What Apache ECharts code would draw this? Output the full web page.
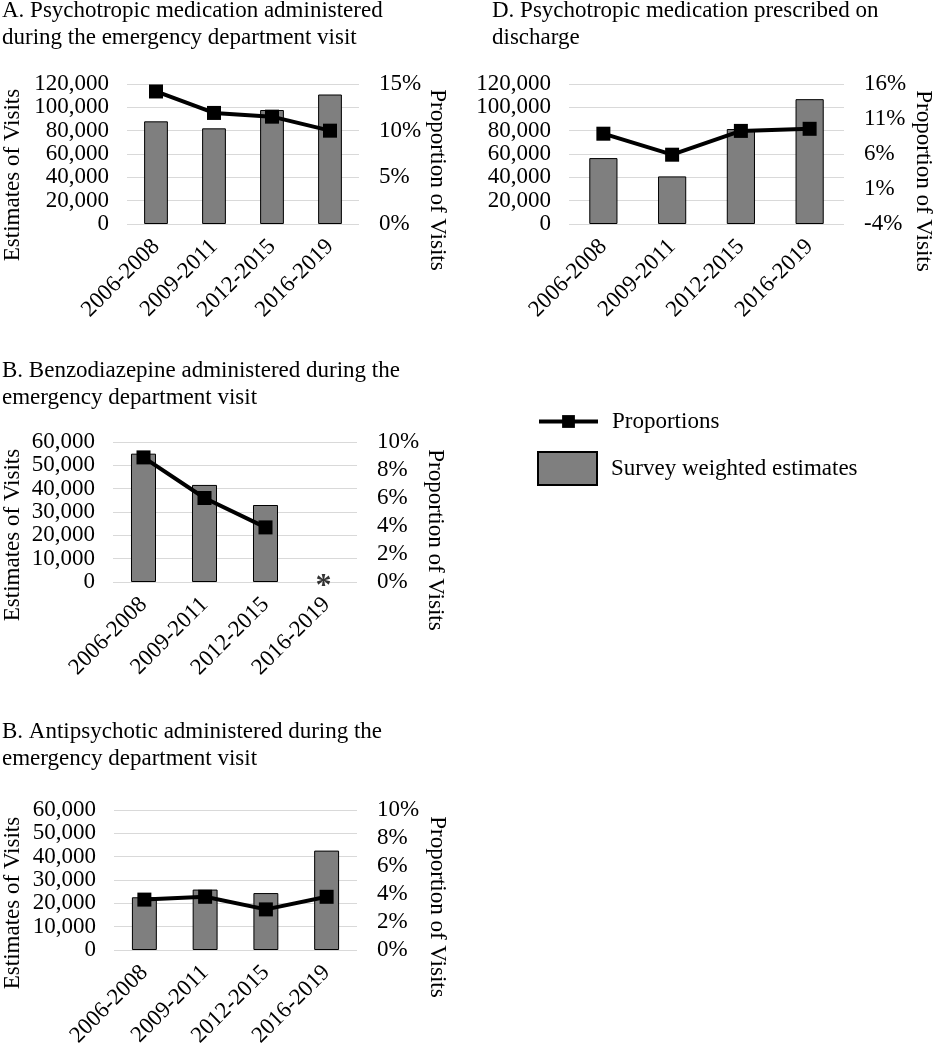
<!DOCTYPE html>
<html>
<head>
<meta charset="utf-8">
<script src="https://cdn.jsdelivr.net/npm/echarts@6/dist/echarts.min.js"></script>
<style>
html,body{margin:0;padding:0;background:#fff;}
#chart{width:934px;height:1050px;}
</style>
</head>
<body>
<div id="chart"></div>
<script>
// ---- data ----
const categories = ['2006-2008', '2009-2011', '2012-2015', '2016-2019'];

const psyAdminEstimates = [88000, 82000, 97700, 111000];
const psyAdminProportions = [14.2, 11.9, 11.5, 10.0];

const psyDischargeEstimates = [56500, 40800, 81400, 107000];
const psyDischargeProportions = [8.9, 5.9, 9.3, 9.6];

const benzoEstimates = [55000, 41600, 33000, null];
const benzoProportions = [8.9, 6.0, 3.9, null];
const benzoSuppressed = [null, null, null, 0];   // '*' marker: estimate not reportable

const antipsyEstimates = [22600, 25900, 24400, 42600];
const antipsyProportions = [3.6, 3.8, 2.9, 3.8];

// axis ranges [min, max, interval]
const psyAdminLeftAxis = [0, 120000, 20000];
const psyAdminRightAxis = [0, 15, 5];
const psyDischargeLeftAxis = [0, 120000, 20000];
const psyDischargeRightAxis = [-4, 16, 5];
const benzoLeftAxis = [0, 60000, 10000];
const benzoRightAxis = [0, 10, 2];
const antipsyLeftAxis = [0, 60000, 10000];
const antipsyRightAxis = [0, 10, 2];

const titles = [
  'A. Psychotropic medication administered\nduring the emergency department visit',
  'D. Psychotropic medication prescribed on\ndischarge',
  'B. Benzodiazepine administered during the\nemergency department visit',
  'B. Antipsychotic administered during the\nemergency department visit'
];
const leftAxisName = 'Estimates of Visits';
const rightAxisName = 'Proportion of Visits';
const lineName = 'Proportions';
const barName = 'Survey weighted estimates';

// ---- styling ----
const FONT = '"Liberation Serif", "Times New Roman", serif';
const FS = 23;
const GRID_COLOR = '#d9d9d9';
const BAR_COLOR = '#7f7f7f';

const grids = [
  {left: 127, top: 84, width: 232, height: 140},
  {left: 569, top: 84, width: 275, height: 140},
  {left: 113, top: 442, width: 244, height: 140},
  {left: 114, top: 810, width: 243, height: 140}
].map(g => Object.assign(g, {outerBoundsMode: 'none', containLabel: false}));

const panels = [
  {est: psyAdminEstimates, prop: psyAdminProportions, la: psyAdminLeftAxis, ra: psyAdminRightAxis},
  {est: psyDischargeEstimates, prop: psyDischargeProportions, la: psyDischargeLeftAxis, ra: psyDischargeRightAxis},
  {est: benzoEstimates, prop: benzoProportions, la: benzoLeftAxis, ra: benzoRightAxis},
  {est: antipsyEstimates, prop: antipsyProportions, la: antipsyLeftAxis, ra: antipsyRightAxis}
];

const fmtThousands = v => Math.round(v).toString().replace(/\B(?=(\d{3})+(?!\d))/g, ',');

const xAxis = [], yAxis = [], series = [];
panels.forEach((p, i) => {
  xAxis.push({
    type: 'category', gridIndex: i, data: categories, boundaryGap: true,
    axisLine: {show: false}, axisTick: {show: false},
    axisLabel: {rotate: 45, interval: 0, margin: 19,
                color: '#000', fontFamily: FONT, fontSize: FS}
  });
  yAxis.push({
    type: 'value', gridIndex: i, min: p.la[0], max: p.la[1], interval: p.la[2],
    axisLine: {show: false}, axisTick: {show: false},
    splitLine: {show: true, lineStyle: {color: GRID_COLOR, width: 1}},
    axisLabel: {margin: 18, color: '#000', fontFamily: FONT, fontSize: FS, formatter: fmtThousands,
                hideOverlap: false}
  });
  yAxis.push({
    type: 'value', gridIndex: i, position: 'right', min: p.ra[0], max: p.ra[1], interval: p.ra[2],
    axisLine: {show: false}, axisTick: {show: false}, splitLine: {show: false},
    axisLabel: {margin: 20, color: '#000', fontFamily: FONT, fontSize: FS, formatter: '{value}%', align: 'left',
                hideOverlap: false}
  });
  series.push({
    name: barName, type: 'bar', xAxisIndex: i, yAxisIndex: 2 * i, data: p.est,
    barWidth: '41%',
    itemStyle: {color: BAR_COLOR, borderColor: '#000', borderWidth: 1},
    z: 2
  });
  series.push({
    name: lineName, type: 'line', xAxisIndex: i, yAxisIndex: 2 * i + 1, data: p.prop,
    symbol: 'rect', symbolSize: 14, connectNulls: false,
    lineStyle: {color: '#000', width: 4},
    itemStyle: {color: '#000'},
    z: 3
  });
});

// asterisk for suppressed benzodiazepine estimate
series.push({
  name: 'suppressed', type: 'scatter', xAxisIndex: 2, yAxisIndex: 4, data: benzoSuppressed,
  symbol: 'circle', symbolSize: 2, itemStyle: {color: 'rgba(0,0,0,0)'},
  label: {show: true, position: 'inside', formatter: '*', color: '#000', fontFamily: FONT,
          fontSize: 32, fontWeight: 'bold', offset: [-3, 5]},
  silent: true, z: 4
});

const title = [
  {text: titles[0], left: 2, top: -3},
  {text: titles[1], left: 492, top: -3},
  {text: titles[2], left: 2, top: 357},
  {text: titles[3], left: 2, top: 718}
].map(t => Object.assign(t, {
  padding: 0,
  textStyle: {fontFamily: FONT, fontSize: FS, fontWeight: 'normal', color: '#000', lineHeight: 27}
}));

function axisNameText(text, x, y, rot) {
  return {
    type: 'text', x: x, y: y, rotation: rot,
    style: {text: text, fill: '#000', font: FS + 'px ' + FONT, textAlign: 'center', textVerticalAlign: 'middle'}
  };
}

const graphic = [
  axisNameText(leftAxisName, 13, 175, Math.PI / 2),
  axisNameText(rightAxisName, 437, 180, -Math.PI / 2),
  axisNameText(rightAxisName, 923, 181, -Math.PI / 2),
  axisNameText(leftAxisName, 13, 535, Math.PI / 2),
  axisNameText(rightAxisName, 435, 540, -Math.PI / 2),
  axisNameText(leftAxisName, 13, 903, Math.PI / 2),
  axisNameText(rightAxisName, 437, 907, -Math.PI / 2)
];

const legend = [
  {
    data: [lineName], left: 537, top: 410, padding: 0, orient: 'vertical',
    itemWidth: 59, itemHeight: 16, selectedMode: false,
    lineStyle: {width: 4, color: '#000'},
    textStyle: {fontFamily: FONT, fontSize: FS, color: '#000', padding: [0, 0, 0, 9]}
  },
  {
    data: [{name: barName, icon: 'rect'}], left: 537, top: 451, padding: 0, orient: 'vertical',
    itemWidth: 59, itemHeight: 33, selectedMode: false,
    textStyle: {fontFamily: FONT, fontSize: FS, color: '#000', padding: [0, 0, 0, 9]}
  }
];

const chart = echarts.init(document.getElementById('chart'), null, {renderer: 'canvas'});
chart.setOption({
  backgroundColor: '#fff',
  animation: false,
  title: title,
  legend: legend,
  grid: grids,
  xAxis: xAxis,
  yAxis: yAxis,
  series: series,
  graphic: graphic
});
</script>
</body>
</html>
